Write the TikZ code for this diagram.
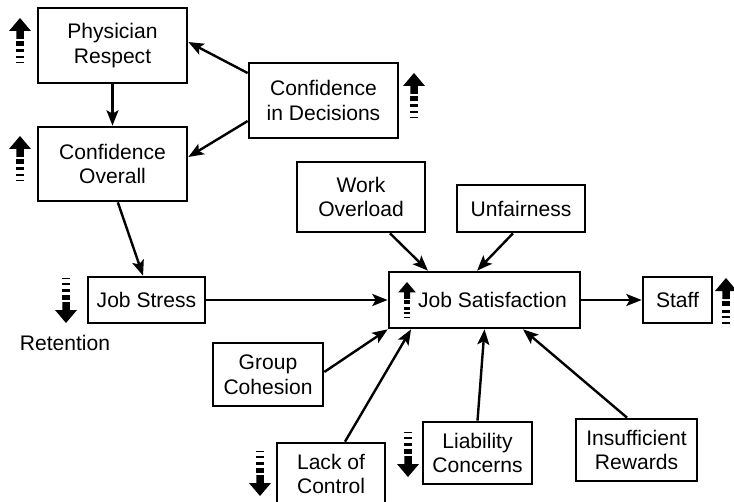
\documentclass[tikz,border=0pt]{standalone}
\usepackage{fontspec}
\setmainfont{Liberation Sans}
\usetikzlibrary{arrows.meta}
\begin{document}
\begin{tikzpicture}[x=0.75pt,y=-0.75pt,
  box/.style={draw=black,line width=2pt,fill=white,align=center,inner sep=0pt,
    font=\fontsize{15.8}{18.5}\selectfont},
  conn/.style={line width=1.8pt,-{Stealth[length=11.5pt,width=9pt,inset=2.5pt]}},
  lbl/.style={font=\fontsize{15.8}{18.5}\selectfont,inner sep=0pt},
  upind/.pic={
    \fill (0,0) -- (11,13) -- (3.75,13) -- (3.75,21) -- (-3.75,21) -- (-3.75,13) -- (-11,13) -- cycle;
    \fill (-3.75,23) rectangle (3.75,28);
    \fill (-3.75,31.5) rectangle (3.75,34.5);
    \fill (-3.75,38) rectangle (3.75,40);
    \fill (-3.75,44) rectangle (3.75,45.5);
  }]
\useasboundingbox (0,0) rectangle (734,502);

% boxes
\node[box,minimum width=111.75pt,minimum height=56.25pt] (pr) at (112.5,45.5) {Physician\\Respect};
\node[box,minimum width=111.75pt,minimum height=55.5pt] (co) at (112.5,164) {Confidence\\Overall};
\node[box,minimum width=111.75pt,minimum height=56.25pt] (cid) at (323.5,100.5) {Confidence\\in Decisions};
\node[box,minimum width=96pt,minimum height=52.5pt] (wo) at (361,197) {Work\\Overload};
\node[box,minimum width=96pt,minimum height=35.25pt] (uf) at (521,208.5) {Unfairness};
\node[box,minimum width=143.25pt,minimum height=42pt] (js) at (484.5,300) {\hspace*{12pt}Job Satisfaction};
\node[box,minimum width=51.75pt,minimum height=34.5pt] (st) at (677.5,300) {Staff};
\node[box,minimum width=87.75pt,minimum height=34.5pt] (jst) at (146.5,300) {Job Stress};
\node[box,minimum width=82.5pt,minimum height=47.25pt] (gc) at (268,374.5) {Group\\Cohesion};
\node[box,minimum width=81pt,minimum height=46.5pt] (lc) at (331,474) {Lack of\\Control};
\node[box,minimum width=81.75pt,minimum height=46.5pt] (lic) at (477.5,453) {Liability\\Concerns};
\node[box,minimum width=90.75pt,minimum height=46.5pt] (ir) at (636.5,450) {Insufficient\\Rewards};

\node[lbl] (ret) at (65,343) {Retention};

% connectors
\draw[conn] ([yshift=20.6pt]cid.west) -- ([yshift=2.6pt]pr.east);
\draw[conn] ([yshift=-15.4pt]cid.west) -- ([yshift=5.25pt]co.east);
\draw[conn] (pr.south) -- (co.north);
\draw[conn] ([xshift=4pt]co.south) -- ([xshift=-2.6pt]jst.north);
\draw[conn] (jst.east) -- (js.west);
\draw[conn] ([xshift=21.75pt]wo.south) -- ([xshift=-42.4pt]js.north);
\draw[conn] ([xshift=-6pt]uf.south) -- ([xshift=-5.6pt]js.north);
\draw[conn] (js.east) -- (st.west);
\draw[conn] ([yshift=1.9pt]gc.east) -- (js.south west);
\draw[conn] ([xshift=10.5pt]lc.north) -- ([xshift=-55.1pt]js.south);
\draw[conn] (lic.north) -- (js.south);
\draw[conn] ([xshift=-7.1pt]ir.north) -- ([xshift=28.9pt]js.south);

% indicator arrows
\pic at (20,18) {upind};
\pic at (20,136) {upind};
\pic at (414,73) {upind};
\pic[scale=0.8] at (407,282) {upind};
\pic at (726,278) {upind};
\pic[yscale=-1] at (66,323) {upind};
\pic[yscale=-1] at (408,477) {upind};
\pic[yscale=-1] at (260,496) {upind};
\end{tikzpicture}
\end{document}
